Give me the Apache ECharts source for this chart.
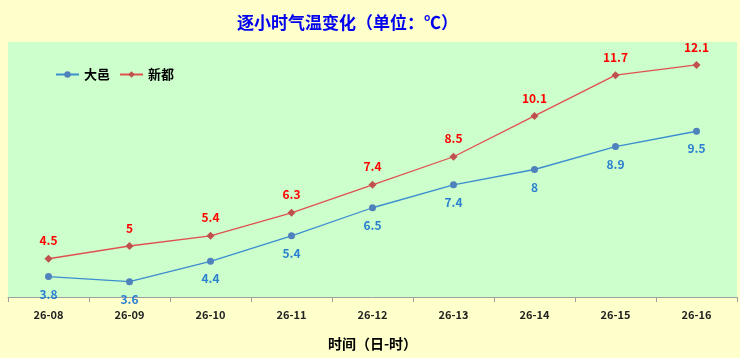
<!DOCTYPE html>
<html><head><meta charset="utf-8">
<script src="https://cdn.jsdelivr.net/npm/echarts@6/dist/echarts.min.js"></script>
<style>html,body{margin:0;padding:0;background:#FFFFCC;}#c{width:740px;height:358px;}</style>
</head><body><div id="c"></div>
<script>
const categories = ['26-08','26-09','26-10','26-11','26-12','26-13','26-14','26-15','26-16'];
const dayi = [3.8,3.6,4.4,5.4,6.5,7.4,8,8.9,9.5];
const xindu = [4.5,5,5.4,6.3,7.4,8.5,10.1,11.7,12.1];
const titleText = '逐小时气温变化（单位：℃）';
const xName = '时间（日-时）';
const font = '"Noto Sans CJK SC", "Liberation Sans", sans-serif';
const chart = echarts.init(document.getElementById('c'));
chart.setOption({
  backgroundColor: '#FFFFCC',
  animation: false,
  title: {text: titleText, left: 232, top: 9,
    textStyle: {color: '#0000EE', fontSize: 17, fontWeight: 'bold', fontFamily: font}},
  legend: {left: 50, top: 63, itemWidth: 23, itemHeight: 8, itemGap: 9,
    textStyle: {color: '#000', fontSize: 13, fontWeight: 'bold', fontFamily: font},
    data: ['大邑', '新都']},
  grid: {left: 8, right: 3, top: 42, bottom: 61, show: true, backgroundColor: '#CCFFCC', borderWidth: 0},
  xAxis: {type: 'category', data: categories, boundaryGap: true,
    name: xName, nameLocation: 'middle', nameGap: 40,
    nameTextStyle: {color: '#000', fontSize: 14, fontWeight: 'bold', fontFamily: font},
    axisLine: {lineStyle: {color: '#A0A0A0', width: 1}},
    axisTick: {show: true, length: 5, inside: false, lineStyle: {color: '#A0A0A0'}},
    axisLabel: {color: '#222', fontSize: 11, fontWeight: 'bold', margin: 12, fontFamily: font}},
  yAxis: {type: 'value', min: 3, max: 13, show: false, splitLine: {show: false}},
  series: [
    {name: '大邑', type: 'line', data: dayi, symbol: 'circle', symbolSize: 7,
     lineStyle: {color: '#3C8DD0', width: 1.3}, itemStyle: {color: '#4F81BD'},
     label: {show: true, position: 'bottom', distance: 8, color: '#2A7FCF', fontSize: 12, fontWeight: 'bold', fontFamily: font}},
    {name: '新都', type: 'line', data: xindu, symbol: 'diamond', symbolSize: 8,
     lineStyle: {color: '#E05050', width: 1.3}, itemStyle: {color: '#C0504D'},
     label: {show: true, position: 'top', distance: 8, color: '#FF0000', fontSize: 12, fontWeight: 'bold', fontFamily: font}}
  ]
});
</script></body></html>
